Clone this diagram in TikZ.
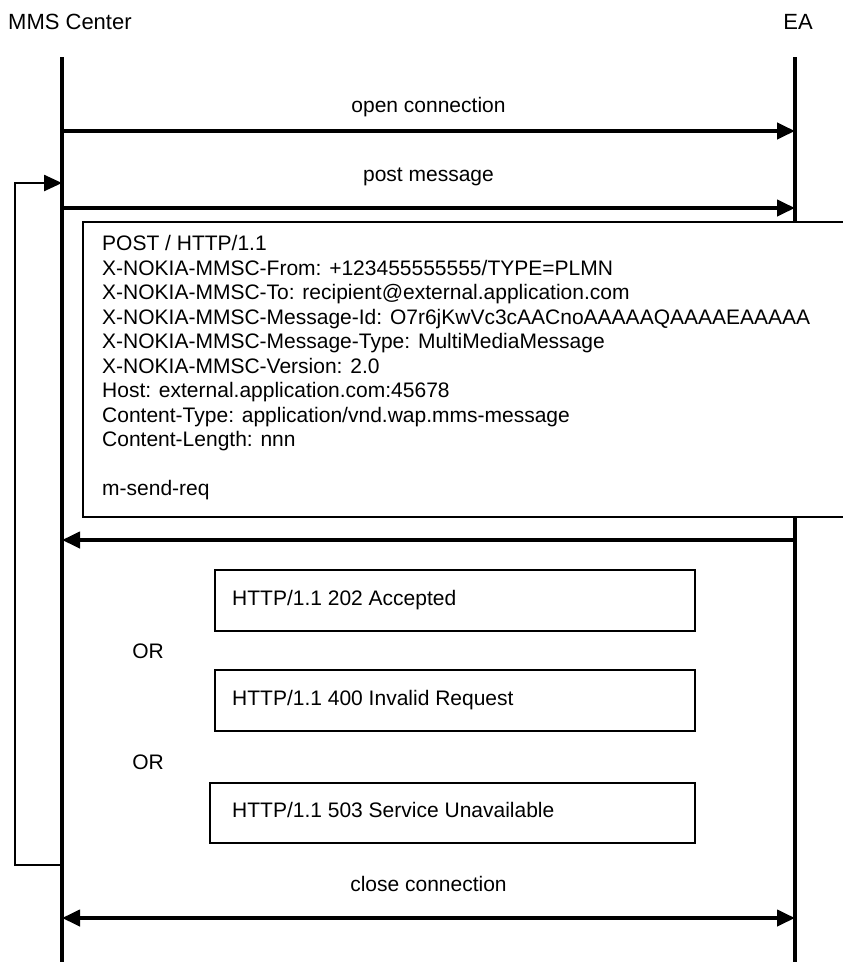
\documentclass[tikz,border=0pt]{standalone}
\usepackage{fontspec}
\setmainfont{Liberation Sans}
\usetikzlibrary{arrows.meta}

\begin{document}
\begin{tikzpicture}[x=1pt,y=-1pt,
  lifeline/.style={line width=4pt},
  tipstyle/.style={-{Triangle[length=18pt,width=16pt]}},
  msg/.style={line width=4pt,tipstyle},
  frame/.style={draw,line width=2.5pt},
  lbl/.style={font=\fontsize{21}{24}\selectfont,inner sep=0pt},
  hdr/.style={font=\fontsize{22}{26}\selectfont,inner sep=0pt},
  hline/.style={lbl,anchor=base west}]
\useasboundingbox (0,0) rectangle (843,962);

% participants
\node[hdr,anchor=west] (mmsc) at (8,22) {MMS Center};
\node[hdr,anchor=east] (ea) at (813,22) {EA};

% lifeline end points
\coordinate (mtop) at (62,57);   \coordinate (mbot) at (62,962);
\coordinate (etop) at (795,57);  \coordinate (ebot) at (795,962);
\draw[lifeline] (mtop) -- (mbot);
\draw[lifeline] (etop) -- (ebot);

% message anchor points on the lifelines
\coordinate (mOpen)  at (62,131);  \coordinate (eOpen)  at (795,131);
\coordinate (mPost)  at (62,208);  \coordinate (ePost)  at (795,208);
\coordinate (mResp)  at (62,540);  \coordinate (eResp)  at (795,540);
\coordinate (mClose) at (62,918);  \coordinate (eClose) at (795,918);
\coordinate (loopIn)  at (62,183);
\coordinate (loopOut) at (62,865);

% open connection
\node[lbl] (openlbl) at (428.5,107) {open connection};
\draw[msg] (mOpen) -- (eOpen);

% post message
\node[lbl] (postlbl) at (428.5,177) {post message};
\draw[msg] (mPost) -- (ePost);

% retry loop
\draw[line width=2.5pt,tipstyle] (loopOut) -- (15,865) -- (15,183) -- (loopIn);

% HTTP request body
\draw[frame,fill=white] (83,222) rectangle (860,517);
\node[hline] (r1) at (102,250.5) {POST / HTTP/1.1};
\node[hline] (r2) at (102,275) {X-NOKIA-MMSC-From: +123455555555/TYPE=PLMN};
\node[hline] (r3) at (102,299.5) {X-NOKIA-MMSC-To: recipient@external.application.com};
\node[hline] (r4) at (102,324) {X-NOKIA-MMSC-Message-Id: O7r6jKwVc3cAACnoAAAAAQAAAAEAAAAA};
\node[hline] (r5) at (102,348.5) {X-NOKIA-MMSC-Message-Type: MultiMediaMessage};
\node[hline] (r6) at (102,373) {X-NOKIA-MMSC-Version: 2.0};
\node[hline] (r7) at (102,397.5) {Host: external.application.com:45678};
\node[hline] (r8) at (102,422) {Content-Type: application/vnd.wap.mms-message};
\node[hline] (r9) at (102,446.5) {Content-Length: nnn};
\node[hline] (r10) at (102,495.5) {m-send-req};

% response
\draw[msg] (eResp) -- (mResp);

\draw[frame] (215,570) rectangle (695,631);
\node[hline] (s1) at (232,605) {HTTP/1.1 202 Accepted};
\node[lbl] (or1) at (148,651) {OR};
\draw[frame] (215,670) rectangle (695,731);
\node[hline] (s2) at (232,705) {HTTP/1.1 400 Invalid Request};
\node[lbl] (or2) at (148,762) {OR};
\draw[frame] (210,783) rectangle (695,843);
\node[hline] (s3) at (232,817) {HTTP/1.1 503 Service Unavailable};

% close connection
\node[lbl] (closelbl) at (428.5,884) {close connection};
\draw[line width=4pt,{Triangle[length=18pt,width=16pt]}-{Triangle[length=18pt,width=16pt]}] (mClose) -- (eClose);
\end{tikzpicture}
\end{document}
